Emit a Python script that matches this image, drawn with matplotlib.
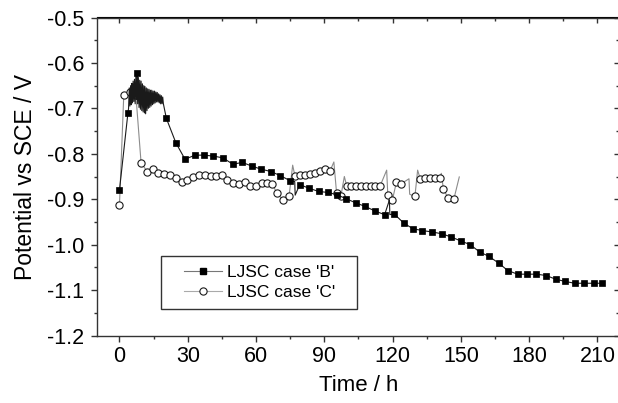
import matplotlib
matplotlib.use("Agg")
import matplotlib.pyplot as plt
from matplotlib.ticker import MultipleLocator, FormatStrFormatter
from matplotlib.patches import Rectangle
from matplotlib.lines import Line2D
import numpy as np

plt.rcParams['font.family'] = ['Liberation Sans', 'DejaVu Sans']
plt.rcParams['axes.unicode_minus'] = False

# ---- data: LJSC case 'B' (squares) ----
b_time = [0.0, 3.7, 7.7, 20.6, 24.8, 28.8, 33.2, 37.1, 41.2, 45.5, 49.8, 54.0, 58.1,
          62.3, 66.5, 70.6, 74.9, 79.2, 83.4, 87.5, 91.5, 95.5, 99.6, 103.8, 108.0,
          112.3, 116.5, 120.6, 124.8, 128.9, 133.1, 137.3, 141.5, 145.7, 150.0, 154.1,
          158.2, 162.4, 166.7, 170.6, 174.9, 179.0, 183.2, 187.5, 191.6, 195.8, 200.0,
          204.2, 208.3, 212.2]
b_pot = [-0.880, -0.711, -0.622, -0.722, -0.776, -0.812, -0.803, -0.803, -0.805, -0.809,
         -0.823, -0.819, -0.827, -0.834, -0.839, -0.848, -0.859, -0.868, -0.876, -0.883,
         -0.885, -0.890, -0.899, -0.908, -0.916, -0.926, -0.934, -0.932, -0.952, -0.965,
         -0.969, -0.972, -0.976, -0.983, -0.992, -1.000, -1.016, -1.026, -1.041, -1.057,
         -1.065, -1.065, -1.065, -1.068, -1.076, -1.081, -1.085, -1.085, -1.085, -1.085]
# recorded trace between markers (noisy start and short spikes), no markers
b_trace_time = [4.0, 4.3, 4.6, 4.9, 5.2, 5.4, 5.7, 6.0, 6.3, 6.6, 6.9, 7.2, 7.5,
                8.0, 8.3, 8.6, 8.9, 9.2, 9.5, 9.8, 10.1, 10.4, 10.7, 11.0, 11.2, 11.5,
                11.8, 12.1, 12.4, 12.7, 13.0, 13.3, 13.6, 13.9, 14.2, 14.5, 14.8, 15.1,
                15.4, 15.7, 16.0, 16.3, 16.6, 16.9, 17.2, 17.5, 17.8, 18.1, 18.4, 18.7,
                19.0, 19.3, 77.0, 77.2, 118.6, 118.8]
b_trace_pot = [-0.700, -0.655, -0.695, -0.650, -0.692, -0.645, -0.688, -0.640, -0.685,
               -0.636, -0.690, -0.630, -0.680, -0.690, -0.632, -0.698, -0.638, -0.702,
               -0.640, -0.705, -0.646, -0.708, -0.650, -0.710, -0.652, -0.712, -0.655,
               -0.705, -0.657, -0.700, -0.658, -0.698, -0.660, -0.695, -0.660, -0.692,
               -0.662, -0.690, -0.662, -0.688, -0.664, -0.686, -0.665, -0.686, -0.668,
               -0.688, -0.670, -0.690, -0.672, -0.690, -0.675, -0.690,
               -0.861, -0.891, -0.902, -0.934]

# ---- data: LJSC case 'C' (open circles) ----
c_time = [0.0, 1.9, 4.7, 7.2, 9.5, 12.2, 14.6, 17.0, 19.5, 22.2, 24.7, 27.4, 29.8, 32.4,
          34.9, 37.4, 40.0, 42.4, 45.0, 47.4, 50.0, 52.5, 55.0, 57.5, 60.0, 62.5, 65.0,
          67.1, 69.2, 72.0, 74.5, 77.1, 79.3, 81.5, 83.7, 85.9, 88.1, 90.3, 92.5, 95.4,
          97.3, 99.8, 101.9, 104.0, 106.1, 108.2, 110.3, 112.4, 114.5, 117.9, 119.9,
          121.7, 123.8, 129.8, 132.2, 134.3, 136.4, 138.6, 140.7, 142.3, 144.4, 146.9]
c_pot = [-0.913, -0.670, -0.664, -0.670, -0.820, -0.839, -0.834, -0.843, -0.845, -0.847,
         -0.854, -0.862, -0.858, -0.851, -0.847, -0.847, -0.849, -0.849, -0.847, -0.858,
         -0.865, -0.867, -0.863, -0.870, -0.872, -0.864, -0.864, -0.866, -0.887, -0.902,
         -0.894, -0.849, -0.847, -0.847, -0.845, -0.842, -0.837, -0.834, -0.838, -0.887,
         -0.893, -0.870, -0.870, -0.870, -0.870, -0.870, -0.871, -0.871, -0.871, -0.891,
         -0.902, -0.862, -0.866, -0.894, -0.856, -0.854, -0.853, -0.853, -0.853, -0.877,
         -0.898, -0.900]
# short spikes in the recorded trace, no markers
c_trace_time = [76.1, 94.2, 98.8, 117.4, 127.2, 127.5, 131.0, 141.4, 149.3]
c_trace_pot = [-0.825, -0.818, -0.850, -0.836, -0.855, -0.889, -0.836, -0.843, -0.851]

x_ticks = [0, 30, 60, 90, 120, 150, 180, 210]
y_ticks = [-0.5, -0.6, -0.7, -0.8, -0.9, -1.0, -1.1, -1.2]
legend_labels = ["LJSC case 'B'", "LJSC case 'C'"]


def merged(t_mark, v_mark, t_extra, v_extra):
    t = np.concatenate([t_mark, t_extra])
    v = np.concatenate([v_mark, v_extra])
    order = np.argsort(t, kind="stable")
    return t[order], v[order]


fig = plt.figure(figsize=(6.18, 4.03), dpi=100)
ax = fig.add_axes([96.7 / 618, 67.5 / 403, 523.5 / 618, 318 / 403])

bt, bv = merged(b_time, b_pot, b_trace_time, b_trace_pot)
ct, cv = merged(c_time, c_pot, c_trace_time, c_trace_pot)

ax.plot(ct, cv, color="#8c8c8c", lw=0.8, zorder=2)
ax.plot(c_time, c_pot, ls="none", marker="o", ms=5.2, mfc="white", mec="#1a1a1a",
        mew=0.8, zorder=3)
ax.plot(bt, bv, color="#1a1a1a", lw=0.8, zorder=4)
ax.plot(b_time, b_pot, ls="none", marker="s", ms=4.8, mfc="black", mec="black",
        mew=0.5, zorder=5)

ax.set_xlim(-10, 220)
ax.set_ylim(-1.2, -0.5)
ax.set_xticks(x_ticks)
ax.set_yticks(y_ticks)
ax.xaxis.set_minor_locator(MultipleLocator(15))
ax.yaxis.set_minor_locator(MultipleLocator(0.05))
ax.yaxis.set_major_formatter(FormatStrFormatter("%.1f"))
ax.tick_params(which="both", direction="out", top=False, right=False,
               labelsize=15.5, width=1.0, color="#333333")
ax.tick_params(which="major", length=4.5)
ax.tick_params(axis="y", which="major", pad=4.5)
ax.tick_params(axis="x", which="major", pad=3)
ax.tick_params(which="minor", length=2.5)
for s in ax.spines.values():
    s.set_linewidth(1.0)
    s.set_color("#333333")

# mirrored inward ticks on top and right
top = ax.secondary_xaxis("top")
top.set_xticks(x_ticks)
top.xaxis.set_minor_locator(MultipleLocator(15))
top.tick_params(which="both", direction="in", labeltop=False, width=1.0, color="#333333")
top.tick_params(which="major", length=4.5)
top.tick_params(which="minor", length=2.8)
right = ax.secondary_yaxis("right")
right.set_yticks(y_ticks)
right.yaxis.set_minor_locator(MultipleLocator(0.05))
right.tick_params(which="both", direction="in", labelright=False, width=1.0, color="#333333")
right.tick_params(which="major", length=4.5)
right.tick_params(which="minor", length=2.8)

ax.set_xlabel("Time / h", fontsize=16, labelpad=6)
ax.set_ylabel("Potential vs SCE / V", fontsize=16.5, labelpad=7)

# legend
x0, x1 = (161 - 96.7) / 523.5, (357 - 96.7) / 523.5
y0, y1 = (335.5 - 309) / 318, (335.5 - 256) / 318
ax.add_patch(Rectangle((x0, y0), x1 - x0, y1 - y0, transform=ax.transAxes,
                       facecolor="white", edgecolor="#333333", lw=1.0, zorder=8))
h_b = Line2D([], [], color="#777777", lw=0.8, marker="s", ms=4.8, mfc="black", mec="black")
h_c = Line2D([], [], color="#aaaaaa", lw=0.8, marker="o", ms=5.2, mfc="white", mec="#1a1a1a", mew=0.8)
leg = ax.legend([h_b, h_c], legend_labels, loc="center left",
                bbox_to_anchor=((184 - 96.7) / 523.5, (y0 + y1) / 2), frameon=False,
                fontsize=12.5, handlelength=2.2, handletextpad=0.3, borderpad=0,
                borderaxespad=0, labelspacing=0.25)
leg.set_zorder(9)

fig.savefig("out.png", dpi=100)
